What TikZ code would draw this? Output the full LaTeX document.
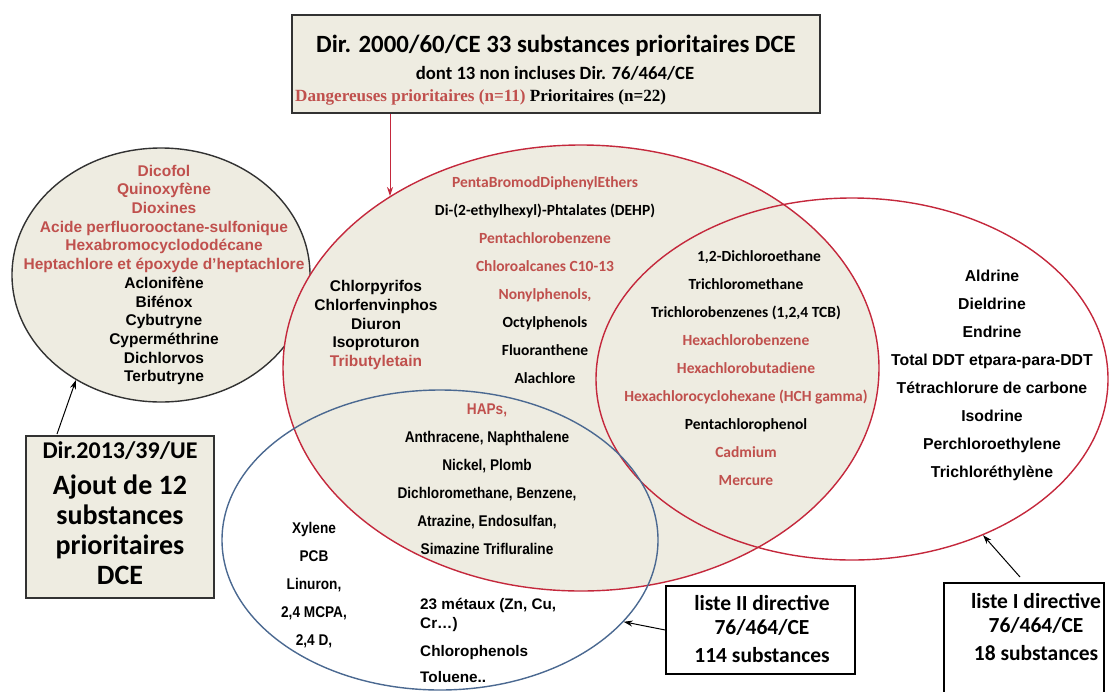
\documentclass[tikz,border=0pt]{standalone}
\usepackage{fontspec}
\setmainfont{Liberation Sans}
\newfontfamily\arialf{Liberation Sans}
\newfontfamily\calf{Carlito}
\newfontfamily\timesf{Liberation Serif}
\newfontfamily\narrowf{Liberation Sans}[FakeStretch=0.88]
\usetikzlibrary{shapes.geometric,arrows.meta}
\definecolor{beige}{RGB}{238,236,225}
\definecolor{redtxt}{RGB}{192,80,77}
\definecolor{redline}{RGB}{196,40,60}
\definecolor{blueline}{RGB}{75,105,145}
\definecolor{darkline}{RGB}{50,50,50}
\tikzset{
  ell/.style={ellipse, inner sep=0pt, line width=1.4pt},
  arr/.style={-{Stealth[length=9pt,width=6pt]}, line width=1pt},
  alst/.style={font=\arialf\bfseries\fontsize{15.5}{18.7}\selectfont, align=center, inner sep=0pt},
  clst/.style={font=\calf\bfseries\fontsize{15.5}{28}\selectfont, align=center, inner sep=0pt},
  rlst/.style={font=\arialf\bfseries\fontsize{15.8}{28}\selectfont, align=center, inner sep=0pt},
  nlst/.style={font=\narrowf\bfseries\fontsize{15.5}{28}\selectfont, align=center, inner sep=0pt},
  boxtxt/.style={font=\calf\bfseries\fontsize{21.5}{24}\selectfont, align=center, inner sep=0pt},
  graybox/.style={draw=darkline, line width=2pt, fill=beige, inner sep=0pt},
  whitebox/.style={draw=black, line width=1.5pt, fill=white, inner sep=0pt},
}
\begin{document}
\begin{tikzpicture}[x=1pt,y=-1pt]
\useasboundingbox (0,0) rectangle (1110,691);
\clip (0,0) rectangle (1110,691);
% ellipses
\node[ell, draw=darkline, fill=beige, minimum width=298pt, minimum height=254pt] (lell) at (161,275) {};
\node[ell, draw=redline, fill=beige, minimum width=596pt, minimum height=446pt] (cell) at (581,368) {};
\node[ell, draw=redline, minimum width=512pt, minimum height=362pt] (rell) at (852,379) {};
\node[ell, draw=blueline, minimum width=436pt, minimum height=300pt] (bell) at (440,540) {};
% left ellipse text
\node[alst] (ltxt) at (164,275) {\textcolor{redtxt}{Dicofol}\\\textcolor{redtxt}{Quinoxyfène}\\\textcolor{redtxt}{Dioxines}\\\textcolor{redtxt}{Acide perfluorooctane-sulfonique}\\\textcolor{redtxt}{Hexabromocyclododécane}\\\textcolor{redtxt}{Heptachlore et époxyde d’heptachlore}\\Aclonifène\\Bifénox\\Cybutryne\\Cyperméthrine\\Dichlorvos\\Terbutryne};
% center ellipse texts
\node[alst] (cltxt) at (376,325) {Chlorpyrifos\\Chlorfenvinphos\\Diuron\\Isoproturon\\\textcolor{redtxt}{Tributyletain}};
\node[clst] (cctxt) at (545,280) {\textcolor{redtxt}{PentaBromodDiphenylEthers}\\Di-(2-ethylhexyl)-Phtalates (DEHP)\\\textcolor{redtxt}{Pentachlorobenzene}\\\textcolor{redtxt}{Chloroalcanes C10-13}\\\textcolor{redtxt}{Nonylphenols,}\\Octylphenols\\Fluoranthene\\Alachlore};
\node[clst] (rctxt) at (746,368.5) {\hspace*{26pt}1,2-Dichloroethane\\Trichloromethane\\Trichlorobenzenes (1,2,4 TCB)\\\textcolor{redtxt}{Hexachlorobenzene}\\\textcolor{redtxt}{Hexachlorobutadiene}\\\textcolor{redtxt}{Hexachlorocyclohexane (HCH gamma)}\\Pentachlorophenol\\\textcolor{redtxt}{Cadmium}\\\textcolor{redtxt}{Mercure}};
% right ellipse text
\node[rlst] (rrtxt) at (992,375.5) {Aldrine\\Dieldrine\\Endrine\\Total DDT etpara-para-DDT\\Tétrachlorure de carbone\\Isodrine\\Perchloroethylene\\Trichloréthylène};
% blue ellipse texts
\node[nlst] (hap) at (487,479.5) {\textcolor{redtxt}{HAPs,}\\Anthracene, Naphthalene\\Nickel, Plomb\\Dichloromethane, Benzene,\\Atrazine, Endosulfan,\\Simazine Trifluraline};
\node[nlst] (bl) at (314,585.5) {Xylene\\PCB\\Linuron,\\2,4 MCPA,\\2,4 D,};
\node[align=left, anchor=west, inner sep=0pt, font=\arialf\bfseries\fontsize{15.3}{19}\selectfont] (br) at (420,640.5) {23 métaux (Zn, Cu,\\Cr…)\\[9pt]Chlorophenols\\[7pt]Toluene..};
% top box
\node[graybox, minimum width=528pt, minimum height=98pt] (tbox) at (556,64) {};
\node[font=\calf\bfseries\fontsize{24.8}{28}\selectfont, inner sep=0pt] (t1) at (556,46) {Dir. 2000/60/CE 33 substances prioritaires DCE};
\node[font=\calf\bfseries\fontsize{18.7}{22}\selectfont, inner sep=0pt] (t2) at (555,73.5) {dont 13 non incluses Dir. 76/464/CE};
\node[font=\timesf\bfseries\fontsize{17.1}{20}\selectfont, inner sep=0pt, anchor=west] (t3) at (295,97.5) {\textcolor{redtxt}{Dangereuses prioritaires (n=11)} Prioritaires (n=22)};
% left box
\node[graybox, minimum width=188pt, minimum height=162pt] (lbox) at (120,517) {};
\node[font=\calf\bfseries\fontsize{24}{28}\selectfont, inner sep=0pt] (lb1) at (120,451) {Dir.2013/39/UE};
\node[font=\calf\bfseries\fontsize{28}{30}\selectfont, align=center, inner sep=0pt] (lb2) at (120,530) {Ajout de 12\\substances\\prioritaires\\DCE};
% liste boxes
\node[whitebox, minimum width=189pt, minimum height=88pt] (l2box) at (760.5,630) {};
\node[boxtxt] (l2txt) at (762,629) {liste II directive\\76/464/CE\\[4pt]114 substances};
\node[whitebox, minimum width=160pt, minimum height=119pt] (l1box) at (1024,642.5) {};
\node[boxtxt] (l1txt) at (1036,627.5) {liste I directive\\76/464/CE\\[4pt]18 substances};
% arrows
\draw[arr, redline] (tbox.south -| cell.138.6) -- (cell.138.6);
\coordinate (la) at (57,434);
\draw[arr, black] (la) -- (lell.231);
\coordinate (ra) at (1020,577);
\draw[arr, black] (ra) -- (rell.310);
\draw[arr, black] (l2box.west) -- (bell.336);
\end{tikzpicture}
\end{document}
